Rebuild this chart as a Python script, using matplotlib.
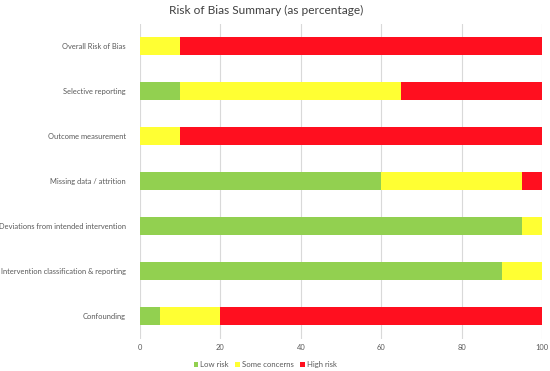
import matplotlib
matplotlib.use("Agg")
import matplotlib.pyplot as plt
import numpy as np

plt.rcParams['font.family'] = ['Lato', 'DejaVu Sans']

categories = ["Confounding", "Intervention classification & reporting",
              "Deviations from intended intervention", "Missing data / attrition",
              "Outcome measurement", "Selective reporting", "Overall Risk of Bias"]
low_risk = [5, 90, 95, 60, 0, 10, 0]
some_concerns = [15, 10, 5, 35, 10, 55, 10]
high_risk = [80, 0, 0, 5, 90, 35, 90]
series_names = ["Low risk", "Some concerns", "High risk"]
colors = ["#92D050", "#FFFF33", "#FF0F1F"]
xticks = [0, 20, 40, 60, 80, 100]

fig = plt.figure(figsize=(5.5, 3.71), dpi=100)
ax = fig.add_axes([0.2545, 0.0876, 0.731, 0.849])

y = np.arange(len(categories))
left = np.zeros(len(categories))
for vals, name, c in zip([low_risk, some_concerns, high_risk], series_names, colors):
    ax.barh(y, vals, left=left, height=0.38, color=c, label=name, zorder=3)
    left += np.array(vals)

ax.set_xlim(0, 100)
ax.set_ylim(-0.5, len(categories) - 0.5)
ax.set_xticks(xticks)
ax.set_xticklabels([str(t) for t in xticks])
ax.set_yticks(y)
ax.set_yticklabels(categories)
ax.tick_params(axis='both', length=0, labelsize=5.4, colors='#595959')
ax.tick_params(axis='x', pad=4)
ax.tick_params(axis='y', pad=10)
ax.grid(axis='x', color='#D9D9D9', linewidth=0.8, zorder=0)
for s in ax.spines.values():
    s.set_visible(False)

fig.text(0.4835, 0.972, "Risk of Bias Summary (as percentage)", ha='center', va='center',
         fontsize=8.6, color='#404040')

handles, labels = ax.get_legend_handles_labels()
fig.legend(handles, labels, loc='center', bbox_to_anchor=(0.482, 0.017), ncol=3,
           frameon=False, fontsize=5.6, handlelength=0.6, handleheight=0.6,
           handletextpad=0.2, columnspacing=0.9, labelcolor='#595959')

fig.savefig("out.png", dpi=100)
